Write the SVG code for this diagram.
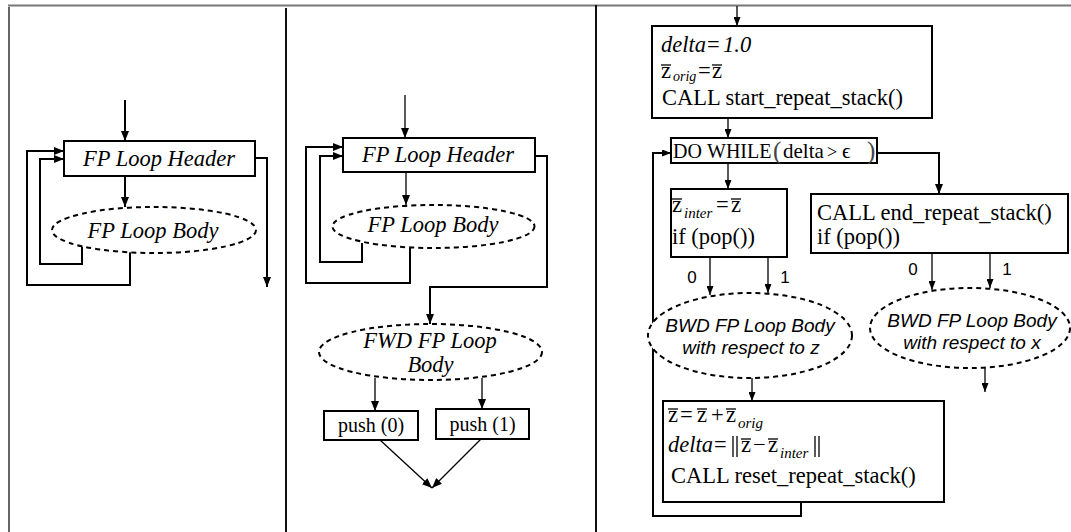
<svg xmlns="http://www.w3.org/2000/svg" width="1071" height="532" viewBox="0 0 1071 532">
<defs>
<marker id="ah" markerUnits="userSpaceOnUse" markerWidth="10" markerHeight="8" refX="10" refY="4" orient="auto"><path d="M0,0 L10,4 L0,8 z" fill="#000"/></marker>
<marker id="ahs" markerUnits="userSpaceOnUse" markerWidth="9" markerHeight="7" refX="9" refY="3.5" orient="auto"><path d="M0,0 L9,3.5 L0,7 z" fill="#000"/></marker>
<style>
.frame{fill:none;stroke:#111;stroke-width:2}
.box{fill:#fff;stroke:#000;stroke-width:2}
.ell{fill:#fff;stroke:#000;stroke-width:2;stroke-dasharray:5 4}
.ln{fill:none;stroke:#000;stroke-width:2}
.thin{fill:none;stroke:#000;stroke-width:1.3}
.it{font-family:"Liberation Serif",serif;font-style:italic;font-size:22.5px;fill:#000}
.rm{font-family:"Liberation Serif",serif;font-size:22.5px;fill:#000}
.sub{font-family:"Liberation Serif",serif;font-style:italic;font-size:15px;fill:#000}
.sans{font-family:"Liberation Sans",Arial,sans-serif;font-style:italic;font-size:19px;fill:#000}
.num{font-family:"Liberation Sans",Arial,sans-serif;font-size:17px;fill:#000}
.bar{stroke:#000;stroke-width:1.3}
</style>
</defs>

<g id="frame">
<line x1="8" y1="5.5" x2="1071" y2="5.5" stroke="#777" stroke-width="2"/>
<line x1="9" y1="7" x2="9" y2="532" stroke="#333" stroke-width="1.5"/>
<line x1="286" y1="8" x2="286" y2="532" class="frame"/>
<line x1="596" y1="5" x2="596" y2="532" class="frame"/>
</g>

<g id="connectors">
<!-- left panel -->
<path class="ln" d="M125,100 V141" marker-end="url(#ah)"/>
<path class="ln" d="M125,176 V207" marker-end="url(#ah)"/>
<path class="ln" d="M82,247 V264 H40 V159 H64" marker-end="url(#ah)"/>
<path class="ln" d="M130,252 V285 H27 V151 H64" marker-end="url(#ah)"/>
<path class="ln" d="M255,158 H267 V287" marker-end="url(#ah)"/>
<!-- middle panel -->
<path class="thin" d="M405,95 V138" marker-end="url(#ah)"/>
<path class="thin" d="M406,172 V205" marker-end="url(#ah)"/>
<path class="ln" d="M362,243 V262 H320 V156 H343" marker-end="url(#ah)"/>
<path class="ln" d="M410,248 V283 H306 V147 H343" marker-end="url(#ah)"/>
<path class="ln" d="M535,156 H547 V287 H430 V324" marker-end="url(#ah)"/>
<path class="thin" d="M375,378 V411" marker-end="url(#ah)"/>
<path class="thin" d="M482,378 V409" marker-end="url(#ah)"/>
<path class="thin" d="M380,440 L432,488" marker-end="url(#ah)"/>
<path class="thin" d="M481,439 L432,488" marker-end="url(#ah)"/>
<!-- right panel -->
<path class="thin" d="M737,6 V26" marker-end="url(#ahs)"/>
<path class="thin" d="M728,118 V138" marker-end="url(#ahs)"/>
<path class="ln" d="M801,502 V516 H653 V153 H671" marker-end="url(#ahs)"/>
<path class="ln" d="M877,153 H939 V194" marker-end="url(#ah)"/>
<path class="thin" d="M728,163 V189" marker-end="url(#ahs)"/>
<path class="thin" d="M710,257 V295" stroke="#555" marker-end="url(#ahs)"/>
<path class="thin" d="M768,257 V293" marker-end="url(#ahs)"/>
<path class="thin" d="M932,253 V290" stroke="#555" marker-end="url(#ahs)"/>
<path class="thin" d="M990,253 V288" marker-end="url(#ahs)"/>
<path class="thin" d="M752,378 V401" marker-end="url(#ahs)"/>
<path class="thin" d="M985,368 V392" marker-end="url(#ahs)"/>
<text class="num" x="692" y="283" text-anchor="middle">0</text>
<text class="num" x="785" y="283" text-anchor="middle">1</text>
<text class="num" x="913" y="275" text-anchor="middle">0</text>
<text class="num" x="1007" y="275" text-anchor="middle">1</text>
</g>

<g id="left-header">
<rect class="box" x="64" y="141" width="191" height="35"/>
<text class="it" x="159" y="166" text-anchor="middle">FP Loop Header</text>
</g>
<g id="left-body">
<ellipse class="ell" cx="154" cy="230" rx="102" ry="23"/>
<text class="it" x="153" y="238" text-anchor="middle">FP Loop Body</text>
</g>

<g id="mid-header">
<rect class="box" x="343" y="138" width="192" height="34"/>
<text class="it" x="438" y="162" text-anchor="middle">FP Loop Header</text>
</g>
<g id="mid-body">
<ellipse class="ell" cx="433.5" cy="226.5" rx="101" ry="21.5"/>
<text class="it" x="433" y="232" text-anchor="middle">FP Loop Body</text>
</g>
<g id="fwd-body">
<ellipse class="ell" cx="430.5" cy="352" rx="111.5" ry="28"/>
<text class="it" x="430" y="348" text-anchor="middle">FWD FP Loop</text>
<text class="it" x="430.5" y="372" text-anchor="middle">Body</text>
</g>
<g id="push0">
<rect class="box" x="324" y="411" width="94" height="29"/>
<text class="rm" x="371" y="432" text-anchor="middle" style="font-size:20px">push (0)</text>
</g>
<g id="push1">
<rect class="box" x="436" y="409" width="93" height="30"/>
<text class="rm" x="482.5" y="431" text-anchor="middle" style="font-size:20px">push (1)</text>
</g>

<g id="init-box">
<rect class="box" x="652" y="26" width="280" height="92"/>
<text class="it" x="661" y="52">delta</text>
<text class="rm" x="707" y="52">=</text>
<text class="it" x="723" y="52">1.0</text>
<text class="rm" x="661" y="78">z</text>
<line class="bar" x1="661" y1="65" x2="671" y2="65"/>
<text class="sub" x="673" y="81" style="font-size:14px">orig</text>
<text class="rm" x="698" y="78">=</text>
<text class="rm" x="712" y="78">z</text>
<line class="bar" x1="712" y1="65" x2="722" y2="65"/>
<text class="rm" x="662" y="105">CALL start_repeat_stack()</text>
</g>

<g id="do-while">
<rect class="box" x="671" y="138" width="206" height="25"/>
<text class="rm" x="673" y="158" style="font-size:20px">DO</text>
<text class="rm" x="707" y="158" style="font-size:20px">WHILE</text>
<text class="rm" x="773" y="159" style="font-size:25px;fill:#444">(</text>
<text class="rm" x="783" y="158" style="font-size:21px">delta</text>
<text class="rm" x="827" y="158" style="font-size:18px">&gt;</text>
<text class="rm" x="842" y="158" style="font-size:21px">ϵ</text>
<text class="rm" x="867" y="159" style="font-size:25px;fill:#444">)</text>
</g>

<g id="inter-box">
<rect class="box" x="671" y="189" width="116" height="68"/>
<text class="rm" x="672" y="212">z</text>
<line class="bar" x1="672" y1="199" x2="682" y2="199"/>
<text class="sub" x="684" y="218">inter</text>
<text class="rm" x="716" y="212">=</text>
<text class="rm" x="731" y="212">z</text>
<line class="bar" x1="731" y1="199" x2="741" y2="199"/>
<text class="rm" x="672" y="244">if (pop())</text>
</g>

<g id="end-box">
<rect class="box" x="811" y="194" width="257" height="59"/>
<text class="rm" x="817" y="220">CALL end_repeat_stack()</text>
<text class="rm" x="817" y="244">if (pop())</text>
</g>

<g id="bwd-z">
<ellipse class="ell" cx="750" cy="335.5" rx="102" ry="42.5"/>
<text class="sans" x="750" y="332" text-anchor="middle">BWD FP Loop Body</text>
<text class="sans" x="751" y="354" text-anchor="middle">with respect to z</text>
</g>

<g id="bwd-x">
<ellipse class="ell" cx="970" cy="328" rx="100" ry="40"/>
<text class="sans" x="972" y="327" text-anchor="middle">BWD FP Loop Body</text>
<text class="sans" x="972" y="349" text-anchor="middle">with respect to x</text>
</g>

<g id="update-box">
<rect class="box" x="663" y="401" width="281" height="101"/>
<text class="rm" x="668" y="422">z</text>
<line class="bar" x1="668" y1="409" x2="678" y2="409"/>
<text class="rm" x="680" y="422">=</text>
<text class="rm" x="697" y="422">z</text>
<line class="bar" x1="697" y1="409" x2="707" y2="409"/>
<text class="rm" x="711" y="422">+</text>
<text class="rm" x="726" y="422">z</text>
<line class="bar" x1="726" y1="409" x2="736" y2="409"/>
<text class="sub" x="738" y="428">orig</text>
<text class="it" x="668" y="452">delta</text>
<text class="rm" x="714" y="452">=</text>
<line class="bar" x1="733" y1="436" x2="733" y2="457"/>
<line class="bar" x1="737" y1="436" x2="737" y2="457"/>
<text class="rm" x="741" y="452">z</text>
<line class="bar" x1="741" y1="439" x2="751" y2="439"/>
<text class="rm" x="753" y="452">−</text>
<text class="rm" x="768" y="452">z</text>
<line class="bar" x1="768" y1="439" x2="778" y2="439"/>
<text class="sub" x="780" y="458">inter</text>
<line class="bar" x1="815" y1="436" x2="815" y2="457"/>
<line class="bar" x1="819" y1="436" x2="819" y2="457"/>
<text class="rm" x="671" y="483">CALL reset_repeat_stack()</text>
</g>
</svg>
